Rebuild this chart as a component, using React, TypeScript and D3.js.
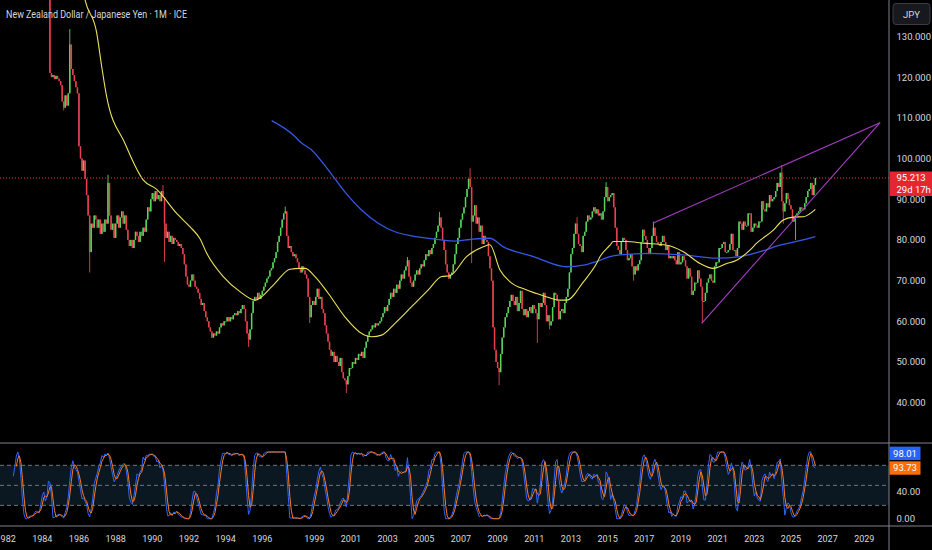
import * as d3 from "d3";

// NZD/JPY monthly, ICE feed.
const chartTitle = "New Zealand Dollar / Japanese Yen · 1M · ICE";
const currencyLabel = "JPY";
const barCountdown = "29d 17h";

// monthly closes, first value is Jan 1980 (1980-84 sit above the visible range,
// they only warm up the oscillator)
const closes1980s = [
  205, 210, 214, 210, 206, 203, 200, 204, 208, 205, 200, 198,
  196, 200, 204, 201, 197, 193, 189, 186, 190, 194, 189, 186,
  184, 187, 191, 189, 186, 188, 192, 196, 200, 194, 183, 176,
  170, 164, 160, 162, 159, 158, 160, 161, 158, 156, 157, 159,
  156, 153, 151, 153, 156, 121, 120, 120.5, 119.5, 120.3, 119.6, 119,
  118, 114, 112.5, 115.5, 113, 116, 128, 122, 120.5, 119, 117.5, 116,
  103, 100, 97, 99.5, 95, 91, 86, 77, 84, 83, 86, 85,
  83, 85, 81.5, 84, 82, 85, 84, 94, 86, 82.5, 84, 80.5,
  84, 86, 83, 85.5, 87, 84, 86, 82.5, 80, 78.5, 80, 78,
  80, 82, 81, 79.5, 82, 81, 83, 82, 85, 88, 87, 90,
];
// the feed has only ten bars in 1998
const closes1990s = [
  91.5, 89.5, 92, 90, 91, 89.5, 92, 90.5, 84, 80.5, 82, 79.5,
  81, 79, 80.5, 80, 79.5, 78.5, 79, 78, 76.5, 74, 71, 69,
  68.5, 70, 71.5, 70, 68.5, 68, 67, 65.5, 64, 64.5, 62.5, 61,
  60, 58.5, 57.5, 56, 57, 56.5, 57.5, 57, 58.5, 59.5, 59, 60,
  60, 61, 60, 61, 60.5, 61.5, 62, 61.5, 62.5, 62, 63, 64,
  63, 60, 57, 55.5, 58, 62, 65, 66, 65.5, 67, 65.5, 66.5,
  67.5, 68.5, 69.5, 70.5, 71, 72.5, 73, 74.5, 75.5, 77, 79.5, 81,
  83, 85, 86.5, 87, 81, 78, 78.5, 77, 76, 76.5, 75.5, 74.5,
  73, 72, 73.5, 72.5, 71.5, 70.5, 66, 61, 64, 65,
  64, 66, 68, 65.5, 66, 63, 62, 59, 57, 55, 53, 51.5,
];
const closes2000s = [
  52.5, 50, 51.5, 50, 49, 51, 47.5, 46, 45.5, 44.5, 46.5, 48.5,
  48.5, 50, 49.5, 51, 50.5, 52, 51.5, 52.5, 51, 53.5, 55, 56.5,
  57.5, 58, 59, 58.5, 59.5, 59, 59.5, 60, 61, 62, 63.5, 62.5,
  64, 65.5, 67, 66, 68, 67, 69, 68, 70, 71.5, 70.5, 72.5,
  73.5, 75, 71, 69.5, 68.5, 70, 71.5, 72.5, 71.5, 73, 74, 73.5,
  75, 76.5, 76, 77.5, 76.5, 78, 79, 80.5, 82, 83.5, 85.5, 83,
  80, 77.5, 74, 72, 70.5, 71.5, 72, 74, 76.5, 79, 80.5, 83,
  85, 86.5, 88, 90.5, 92.5, 95, 93, 84.5, 86, 88.5, 84, 85.5,
  82, 83.5, 79, 81, 80, 79.5, 76, 73, 70, 58.5, 53, 50,
  48.5, 47.5, 52, 56, 58.5, 61, 62, 63.5, 65, 66.5, 65, 64,
];
const closes2010s = [
  66, 62.5, 64.5, 67.5, 63, 61.5, 63, 61, 62.5, 63.5, 62, 64,
  63, 62, 60.5, 64.5, 63.5, 64.5, 67, 64, 60, 61.5, 59, 60,
  63.5, 67, 66.5, 65, 60.5, 62.5, 63, 62, 64.5, 66, 68, 72,
  76.5, 78, 81.5, 84, 81.5, 79, 78.5, 77, 81, 82, 84.5, 86,
  85, 85.5, 87, 88, 86.5, 87.5, 86, 86.5, 85, 87, 90.5, 93,
  89.5, 90.5, 91, 91.5, 88, 83, 78.5, 77.5, 76.5, 79.5, 80.5, 80,
  77.5, 75, 75.5, 76.5, 73.5, 71.5, 73.5, 72.5, 74, 75, 79.5, 82.5,
  81, 80, 78, 76.5, 78, 81, 83, 81, 79.5, 79, 78.5, 79.5,
  81, 79.5, 77.5, 78.5, 75.5, 76, 75.5, 76, 75, 74, 77, 74,
  74.5, 76, 75, 73.5, 70.5, 73, 71, 66.5, 67.5, 69.5, 69.5, 72.5,
];
// through May 2026
const closes2020s = [
  70.5, 68.5, 65, 65, 67, 69.5, 70.5, 71.5, 70, 69.5, 73.5, 74.5,
  74.5, 78, 78, 79, 79.5, 77, 77, 77.5, 79, 81.5, 77.5, 77.5,
  76, 78, 84.5, 84, 82.5, 84.5, 83.5, 83.5, 86.5, 86.5, 82, 83,
  84, 83.5, 83, 84.5, 84.5, 89.5, 87.5, 87, 89, 88, 91, 89.5,
  90, 90.5, 92, 94, 93, 96.5, 89.5, 87, 89, 91.5, 90, 88.5,
  87.5, 84.5, 85.5, 86, 86.5, 87, 88, 87.5, 87.5, 89, 90.5, 92,
  92.5, 94, 91, 93.5, 95.213,
];
const missingMonths = ["1998-11", "1998-12"];

// wick extremes that stick out of the bodies
const wickHighs: [string, number][] = [
  ["1985-07", 131.8], ["1987-08", 96], ["1990-08", 93.5], ["1997-04", 88.2],
  ["2004-02", 75.8], ["2005-11", 86.9], ["2007-07", 97.6], ["2013-05", 85.6],
  ["2014-12", 94.2], ["2017-07", 84.5], ["2024-07", 98.4],
];
const wickLows: [string, number][] = [
  ["1985-03", 111.8], ["1986-08", 72], ["1990-09", 74.6], ["1995-04", 53.7],
  ["1998-08", 59.6], ["2000-10", 42.4], ["2007-08", 74.3], ["2009-02", 44.3],
  ["2011-03", 54.7], ["2011-11", 58], ["2016-06", 70], ["2020-03", 59.6],
  ["2024-08", 84], ["2025-04", 80],
];

// moving averages as drawn (decimal year, price)
const maFastPoints: [number, number][] = [
  [1985.7, 156], [1986.0, 147], [1986.33, 139], [1986.97, 130.8], [1987.24, 122.6],
  [1987.51, 115.2], [1988.51, 103.7], [1989.51, 94.7], [1990.24, 92.4], [1991.33, 86.5],
  [1992.06, 83.2], [1992.6, 80.3], [1992.97, 76.7], [1993.87, 71], [1994.78, 67.3],
  [1995.6, 65.2], [1996.6, 68.9], [1997.51, 72.8], [1998.06, 73], [1998.33, 73],
  [1999.04, 71], [1999.76, 66.9], [2000.67, 61.1], [2001.59, 57], [2002.13, 56.2],
  [2002.68, 56.6], [2003.4, 59.5], [2004.31, 63.6], [2005.22, 67.7], [2005.95, 71],
  [2006.4, 71.2], [2007.31, 75.9], [2008.22, 78.3], [2008.58, 78.8], [2009.13, 72.6],
  [2009.68, 69.7], [2010.59, 67.7], [2011.49, 66.3], [2012.4, 65.2], [2012.77, 65.2],
  [2013.68, 69.7], [2014.41, 74.3], [2014.59, 75.9], [2015.13, 78.7], [2015.31, 79.6],
  [2016.04, 79.6], [2016.95, 79.2], [2018.23, 78.7], [2019.13, 77.1], [2020.04, 74.2],
  [2020.76, 73], [2021.5, 74.2], [2022.04, 75], [2022.76, 77.5], [2023.13, 79.2],
  [2024.04, 82.4], [2024.58, 84.9], [2025.13, 85.6], [2025.68, 85.7], [2026.33, 87.5],
];
const maSlowPoints: [number, number][] = [
  [1996.51, 109.3], [1997.78, 105.4], [1998.06, 104.1], [1998.69, 102.1], [1999.76, 97.2],
  [2000.67, 91.8], [2001.59, 87.3], [2002.49, 84.1], [2003.4, 82], [2004.31, 81],
  [2005.22, 80.4], [2006.67, 79.7], [2007.49, 80.1], [2008.58, 80.4], [2009.31, 78.3],
  [2010.95, 75.9], [2012.77, 73.4], [2013.68, 73.8], [2014.59, 75], [2015.13, 75.9],
  [2015.68, 76.3], [2017.32, 76.7], [2019.13, 76.3], [2020.95, 75.5], [2022.22, 75.9],
  [2023.31, 77.1], [2024.4, 78.7], [2025.49, 79.8], [2026.33, 80.8],
];

// rising wedge drawn on the chart
const upperTrend: [number, number][] = [[2017.46, 84.1], [2029.86, 108.8]];
const lowerTrend: [number, number][] = [[2020.13, 59.5], [2029.86, 108.8]];

const priceTicks = [130, 120, 110, 100, 90, 80, 70, 60, 50, 40];
const oscTicks = [40, 0];
const oscLevels = [80, 50, 20];
const yearTicks = [
  1982, 1984, 1986, 1988, 1990, 1992, 1994, 1996, 1999, 2001, 2003, 2005,
  2007, 2009, 2011, 2013, 2015, 2017, 2019, 2021, 2023, 2025, 2027, 2029,
];
const stochTagValues = [98.01, 93.73];

const W = 932;
const H = 550;
const AXIS_X = 889;
const PANE_SPLIT = 443;
const TIME_AXIS_Y = 526;

const UP = "#55d35a";
const DOWN = "#e8414f";
const TEXT = "#d6d8de";
const LINE_GREY = "#7e818b";
const FONT = "Roboto, 'Noto Sans', Arial, sans-serif";

type Bar = { i: number; year: number; month: number; open: number; high: number; low: number; close: number };

const monthKey = (y: number, m: number) => `${y}-${String(m + 1).padStart(2, "0")}`;

function buildBars() {
  const closes = [...closes1980s, ...closes1990s, ...closes2000s, ...closes2010s, ...closes2020s];
  const highs = new Map(wickHighs);
  const lows = new Map(wickLows);
  const list: Bar[] = [];
  let y = 1980;
  let m = 0;
  const step = () => {
    m += 1;
    if (m === 12) { m = 0; y += 1; }
  };
  closes.forEach((close, i) => {
    while (missingMonths.includes(monthKey(y, m))) step();
    const open = i === 0 ? close : closes[i - 1];
    const key = monthKey(y, m);
    const high = Math.max(open, close, highs.get(key) ?? -Infinity);
    const low = Math.min(open, close, lows.get(key) ?? Infinity);
    list.push({ i, year: y, month: m, open, high, low, close });
    step();
  });
  return list;
}

const bars = buildBars();
const indexByKey = new Map(bars.map((b) => [monthKey(b.year, b.month), b.i] as [string, number]));

function dateIndex(y: number, m: number): number {
  const found = indexByKey.get(monthKey(y, m));
  if (found !== undefined) return found;
  const last = bars[bars.length - 1];
  const diff = y * 12 + m - (last.year * 12 + last.month);
  if (diff > 0) return last.i + diff;
  // month missing from the feed -> next bar that exists
  return dateIndex(m === 11 ? y + 1 : y, (m + 1) % 12);
}

function yearIndex(t: number) {
  const y = Math.floor(t);
  const mf = (t - y) * 12;
  const m = Math.floor(mf);
  return dateIndex(y, m) + (mf - m);
}

// Stoch RSI 14/14/3/3 as TradingView computes it
function stochRsi(values: number[]) {
  const len = 14;
  const rsi = values.map(() => NaN);
  let g = 0;
  let l = 0;
  for (let k = 1; k < values.length; k++) {
    const ch = values[k] - values[k - 1];
    const up = Math.max(ch, 0);
    const dn = Math.max(-ch, 0);
    if (k <= len) {
      g += up / len;
      l += dn / len;
    } else {
      g = (g * (len - 1) + up) / len;
      l = (l * (len - 1) + dn) / len;
    }
    if (k >= len) rsi[k] = l === 0 ? 100 : 100 - 100 / (1 + g / l);
  }
  const raw = rsi.map((v, k) => {
    if (k < 2 * len - 1) return NaN;
    const win = rsi.slice(k - len + 1, k + 1);
    const lo = d3.min(win) as number;
    const hi = d3.max(win) as number;
    return hi === lo ? 0 : (100 * (v - lo)) / (hi - lo);
  });
  const sma = (arr: number[], n: number) =>
    arr.map((_, k) => {
      if (k < n - 1) return NaN;
      const w = arr.slice(k - n + 1, k + 1);
      return w.some((v) => isNaN(v)) ? NaN : (d3.mean(w) as number);
    });
  const kLine = sma(raw, 3);
  const dLine = sma(kLine, 3);
  return { kLine, dLine };
}

export default function App() {
  const x = d3
    .scaleLinear()
    .domain([dateIndex(1984, 0), dateIndex(2029, 0)])
    .range([42.3, 864.3]);
  const yPrice = d3.scaleLinear().domain([40, 130]).range([402.7, 36.4]);
  const yOsc = d3.scaleLinear().domain([0, 100]).range([518.7, 452]);

  const closes = bars.map((b) => b.close);
  const { kLine, dLine } = stochRsi(closes);
  const lastClose = closes[closes.length - 1];

  const maLine = d3
    .line<[number, number]>()
    .x((d) => x(yearIndex(d[0])))
    .y((d) => yPrice(d[1]))
    .curve(d3.curveMonotoneX);
  const trendLine = d3
    .line<[number, number]>()
    .x((d) => x(yearIndex(d[0])))
    .y((d) => yPrice(d[1]));
  const oscLine = d3
    .line<number>()
    .defined((v) => !isNaN(v))
    .x((_, i) => x(i))
    .y((v) => yOsc(v));

  const fmtPrice = d3.format(".3f");
  const fmtOsc = d3.format(".2f");
  const visible = bars.filter((b) => x(b.i) > -3 && x(b.i) < AXIS_X);

  const tagTop = yOsc(stochTagValues[0]) - 6.7;

  return (
    <div style={{ position: "absolute", left: 0, top: 0, width: W, height: H, background: "#000" }}>
      <svg width={W} height={H} style={{ display: "block", fontFamily: FONT }}>
        <defs>
          <clipPath id="pricePane">
            <rect x={0} y={0} width={AXIS_X} height={PANE_SPLIT} />
          </clipPath>
          <clipPath id="oscPane">
            <rect x={0} y={PANE_SPLIT + 1} width={AXIS_X} height={TIME_AXIS_Y - PANE_SPLIT - 1} />
          </clipPath>
        </defs>
        <rect width={W} height={H} fill="#000" />

        {/* price pane */}
        <g clipPath="url(#pricePane)">
          {visible.map((b) => {
            const col = b.close >= b.open ? UP : DOWN;
            const top = yPrice(Math.max(b.open, b.close));
            const bot = yPrice(Math.min(b.open, b.close));
            const cx = x(b.i);
            return (
              <g key={b.i}>
                <line x1={cx} x2={cx} y1={yPrice(b.high)} y2={yPrice(b.low)} stroke={col} strokeWidth={0.9} />
                <rect x={cx - 0.75} y={top} width={1.5} height={Math.max(1, bot - top)} fill={col} />
              </g>
            );
          })}
          <path d={maLine(maSlowPoints) ?? ""} fill="none" stroke="#3557e6" strokeWidth={1.3} />
          <path d={maLine(maFastPoints) ?? ""} fill="none" stroke="#ece25a" strokeWidth={1.1} />
          <path d={trendLine(upperTrend) ?? ""} fill="none" stroke="#a63fc6" strokeWidth={1.1} />
          <path d={trendLine(lowerTrend) ?? ""} fill="none" stroke="#a63fc6" strokeWidth={1.1} />
          <line
            x1={0}
            x2={AXIS_X}
            y1={yPrice(lastClose)}
            y2={yPrice(lastClose)}
            stroke="#f23645"
            strokeWidth={1}
            strokeDasharray="1 2"
          />
        </g>
        <text x={6} y={18} fill={TEXT} fontSize={11} textLength={181} lengthAdjust="spacingAndGlyphs">
          {chartTitle}
        </text>

        {/* oscillator pane */}
        <rect
          x={0}
          y={yOsc(80)}
          width={AXIS_X}
          height={yOsc(20) - yOsc(80)}
          fill="#0b1721"
        />
        {oscLevels.map((lv) => (
          <line
            key={lv}
            x1={0}
            x2={AXIS_X}
            y1={yOsc(lv)}
            y2={yOsc(lv)}
            stroke="#72757f"
            strokeWidth={1}
            strokeDasharray="4 3"
          />
        ))}
        <g clipPath="url(#oscPane)">
          <path d={oscLine(kLine) ?? ""} fill="none" stroke="#2f66ff" strokeWidth={1} />
          <path d={oscLine(dLine) ?? ""} fill="none" stroke="#ff7a1a" strokeWidth={1} />
        </g>

        {/* frame */}
        <line x1={0} x2={W} y1={PANE_SPLIT} y2={PANE_SPLIT} stroke={LINE_GREY} strokeWidth={1.2} />
        <line x1={0} x2={W} y1={TIME_AXIS_Y} y2={TIME_AXIS_Y} stroke={LINE_GREY} strokeWidth={1.2} />
        <line x1={AXIS_X} x2={AXIS_X} y1={0} y2={H} stroke={LINE_GREY} strokeWidth={1} />

        {/* price axis */}
        <rect x={893} y={3.5} width={37} height={21} rx={3} fill="#17191f" stroke="#393c45" />
        <text x={911.5} y={17.5} fill={TEXT} fontSize={9.5} textAnchor="middle">
          {currencyLabel}
        </text>
        {priceTicks.map((p) => (
          <text key={p} x={896.5} y={yPrice(p) + 3.4} fill={TEXT} fontSize={9.5}>
            {fmtPrice(p)}
          </text>
        ))}
        <rect x={890} y={yPrice(lastClose) - 6.5} width={42} height={24.5} fill="#e5252f" />
        <text x={896.5} y={yPrice(lastClose) + 3.4} fill="#fff" fontSize={9.5}>
          {fmtPrice(lastClose)}
        </text>
        <text x={896.5} y={yPrice(lastClose) + 15.2} fill="#fff" fontSize={9.5}>
          {barCountdown}
        </text>

        {/* oscillator axis */}
        {oscTicks.map((v) => (
          <text key={v} x={896.5} y={yOsc(v) + 3.4} fill={TEXT} fontSize={9.5}>
            {fmtOsc(v)}
          </text>
        ))}
        {stochTagValues.map((v, i) => (
          <g key={i}>
            <rect x={889.5} y={tagTop + i * 14.7} width={31} height={13.4} fill={i === 0 ? "#2962ff" : "#ff6d00"} />
            <text x={905} y={tagTop + i * 14.7 + 10} fill="#fff" fontSize={9.5} textAnchor="middle">
              {fmtOsc(v)}
            </text>
          </g>
        ))}

        {/* time axis */}
        {yearTicks.map((yr) => (
          <text key={yr} x={x(dateIndex(yr, 0))} y={541.5} fill={TEXT} fontSize={9} textAnchor="middle">
            {yr}
          </text>
        ))}
      </svg>
    </div>
  );
}
